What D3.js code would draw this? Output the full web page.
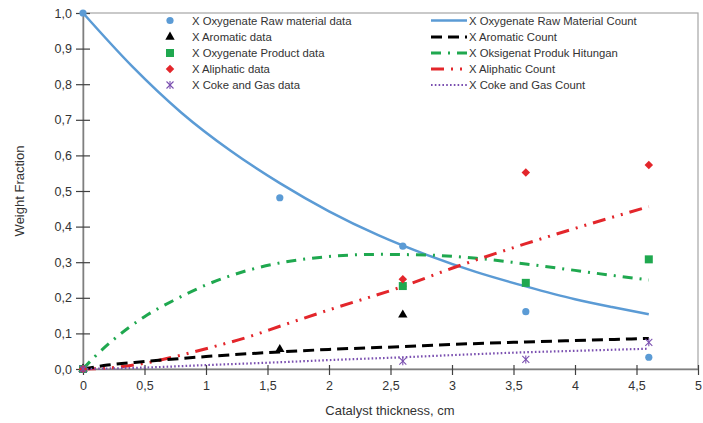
<!DOCTYPE html>
<html><head><meta charset="utf-8">
<script src="https://cdn.jsdelivr.net/npm/d3@7"></script>
<style>body{margin:0;background:#fff}svg{display:block}</style>
</head><body>
<svg id="c" width="703" height="423"></svg>
<script>
// ---- data ----
const xTicks = [0,0.5,1,1.5,2,2.5,3,3.5,4,4.5,5];
const yTicks = [0,0.1,0.2,0.3,0.4,0.5,0.6,0.7,0.8,0.9,1.0];

const dataX = [0,1.6,2.6,3.6,4.6];
const oxyRawData = [1.0,0.481,0.345,0.161,0.033];
const aromaticDataX = [0,1.6,2.6];
const aromaticData = [0,0.055,0.152];
const oxyProdDataX = [0,2.6,3.6,4.6];
const oxyProdData = [0,0.233,0.242,0.308];
const aliphDataX = [0,2.6,3.6,4.6];
const aliphData = [0,0.252,0.552,0.573];
const cokeDataX = [0,2.6,3.6,4.6];
const cokeData = [0,0.022,0.027,0.075];

const oxyRawCountX = [0,0.4,0.8,1.2,1.6,2.0,2.4,2.8,3.2,3.6,4.0,4.3,4.6];
const oxyRawCount  = [1.0,0.85,0.72,0.613,0.522,0.443,0.376,0.32,0.272,0.232,0.196,0.174,0.154];
const aromCountX = [0,0.2,0.5,1.0,1.6,2.0,2.6,3.0,3.6,4.0,4.6];
const aromCount  = [0,0.011,0.021,0.035,0.048,0.055,0.063,0.069,0.076,0.080,0.086];
const oxyProdCountX = [0,0.1,0.25,0.5,0.75,1.0,1.35,1.6,2.0,2.4,2.8,3.2,3.6,4.0,4.3,4.6];
const oxyProdCount  = [0,0.036,0.083,0.147,0.195,0.236,0.278,0.298,0.316,0.322,0.320,0.311,0.295,0.277,0.263,0.25];
const aliphCountX = [0,0.25,0.5,0.75,1.0,1.37,1.6,2.0,2.6,3.0,3.6,4.0,4.6];
const aliphCount  = [0,0.004,0.016,0.035,0.057,0.093,0.12,0.166,0.232,0.283,0.352,0.395,0.456];
const cokeCountX = [0,0.5,1.0,1.6,2.0,2.6,3.0,3.6,4.0,4.6];
const cokeCount  = [0,0.004,0.011,0.019,0.025,0.033,0.039,0.047,0.051,0.057];

const legendLeft = ["X Oxygenate Raw material data","X Aromatic data","X Oxygenate Product data","X Aliphatic data","X Coke and Gas data"];
const legendRight = ["X Oxygenate Raw Material Count","X Aromatic Count","X Oksigenat Produk Hitungan","X Aliphatic Count","X Coke and Gas Count"];

// ---- styles ----
const C = {blue:"#5b9bd5", black:"#000", green:"#1fa84f", red:"#e3262b", purple:"#7a4fb0"};
const font = "'Liberation Sans', Arial, sans-serif";

const svg = d3.select("#c");
const x = d3.scaleLinear().domain([0,5]).range([83,698]);
const y = d3.scaleLinear().domain([0,1]).range([369,13]);
const fmt = d => d3.format(".1f")(d).replace(".",",");

// border
svg.append("rect").attr("x",83).attr("y",13).attr("width",615).attr("height",356)
  .attr("fill","none").attr("stroke","#a6a6a6").attr("stroke-width",1.2);

// axes
const ya = svg.append("g").attr("transform","translate(83,0)")
  .call(d3.axisLeft(y).tickValues(yTicks).tickFormat(fmt).tickSizeInner(7).tickSizeOuter(0));
ya.selectAll(".tick line").attr("x2",7).attr("x1",-7);
const xa = svg.append("g").attr("transform","translate(0,369)")
  .call(d3.axisBottom(x).tickValues(xTicks).tickFormat(d=>String(d).replace(".",",")).tickSizeInner(6).tickSizeOuter(0));
xa.selectAll(".tick line").attr("y1",-4).attr("y2",6);
[ya,xa].forEach(a=>{
  a.select(".domain").attr("stroke","#7f7f7f").attr("stroke-width",1.5);
  a.selectAll(".tick line").attr("stroke","#404040").attr("stroke-width",1.2);
  a.selectAll("text").attr("font-family",font).attr("font-size",12.5).attr("fill","#333");
});
ya.selectAll("text").attr("x",-11);
xa.selectAll("text").attr("y",12);

svg.append("text").attr("x",390).attr("y",415).attr("text-anchor","middle")
  .attr("font-family",font).attr("font-size",13).attr("fill","#333").text("Catalyst thickness, cm");
svg.append("text").attr("transform","translate(24,191) rotate(-90)").attr("text-anchor","middle")
  .attr("font-family",font).attr("font-size",13).attr("fill","#333").text("Weight Fraction");

// lines
const lineGen = d3.line().x(d=>x(d[0])).y(d=>y(d[1])).curve(d3.curveMonotoneX);
const lines = [
  {xs:oxyRawCountX, ys:oxyRawCount, color:C.blue, w:2.5, dash:null},
  {xs:oxyProdCountX, ys:oxyProdCount, color:C.green, w:3, dash:"10 7 2 7"},
  {xs:aliphCountX, ys:aliphCount, color:C.red, w:3, dash:"13 7 2 7 2 7"},
  {xs:aromCountX, ys:aromCount, color:C.black, w:3, dash:"11 6"},
  {xs:cokeCountX, ys:cokeCount, color:C.purple, w:2.2, dash:"1.6 2.2"}
];
lines.forEach(l=>{
  svg.append("path").datum(d3.zip(l.xs,l.ys)).attr("d",lineGen)
    .attr("fill","none").attr("stroke",l.color).attr("stroke-width",l.w)
    .attr("stroke-dasharray",l.dash);
});

// markers
function marker(g, type, cx, cy){
  if(type==="circle") g.append("circle").attr("cx",cx).attr("cy",cy).attr("r",3.6).attr("fill",C.blue);
  else if(type==="triangle") g.append("path").attr("transform",`translate(${cx},${cy})`)
      .attr("d",d3.symbol(d3.symbolTriangle,38)()).attr("fill",C.black);
  else if(type==="square") g.append("rect").attr("x",cx-4).attr("y",cy-4).attr("width",8).attr("height",8).attr("fill",C.green);
  else if(type==="diamond") g.append("rect").attr("x",-3).attr("y",-3).attr("width",6).attr("height",6)
      .attr("transform",`translate(${cx},${cy}) rotate(45)`).attr("fill",C.red);
  else if(type==="star"){
    const s=g.append("g").attr("transform",`translate(${cx},${cy})`).attr("stroke",C.purple).attr("stroke-width",1.1);
    s.append("line").attr("x1",-3.5).attr("y1",-3.5).attr("x2",3.5).attr("y2",3.5);
    s.append("line").attr("x1",-3.5).attr("y1",3.5).attr("x2",3.5).attr("y2",-3.5);
    s.append("line").attr("x1",0).attr("y1",-4).attr("x2",0).attr("y2",4);
  }
}
const pts = [
  {xs:dataX, ys:oxyRawData, t:"circle"},
  {xs:aromaticDataX, ys:aromaticData, t:"triangle"},
  {xs:oxyProdDataX, ys:oxyProdData, t:"square"},
  {xs:aliphDataX, ys:aliphData, t:"diamond"},
  {xs:cokeDataX, ys:cokeData, t:"star"}
];
const mg = svg.append("g");
pts.forEach(p=>p.xs.forEach((v,i)=>marker(mg,p.t,x(v),y(p.ys[i]))));

// legend
const lg = svg.append("g");
const rowY = [20.5,37,53,69,85];
const types = ["circle","triangle","square","diamond","star"];
legendLeft.forEach((t,i)=>{
  marker(lg,types[i],170,rowY[i]);
  lg.append("text").attr("x",192).attr("y",rowY[i]+4).attr("font-family",font).attr("font-size",11.3)
    .attr("fill","#333").text(t);
});
const lgLines = [lines[0],lines[3],lines[1],lines[2],lines[4]];
legendRight.forEach((t,i)=>{
  const l=lgLines[i];
  lg.append("line").attr("x1",431).attr("x2",467).attr("y1",rowY[i]).attr("y2",rowY[i])
    .attr("stroke",l.color).attr("stroke-width",l.w).attr("stroke-dasharray",l.dash);
  lg.append("text").attr("x",469).attr("y",rowY[i]+4).attr("font-family",font).attr("font-size",11.3)
    .attr("fill","#333").text(t);
});
</script>
</body></html>
